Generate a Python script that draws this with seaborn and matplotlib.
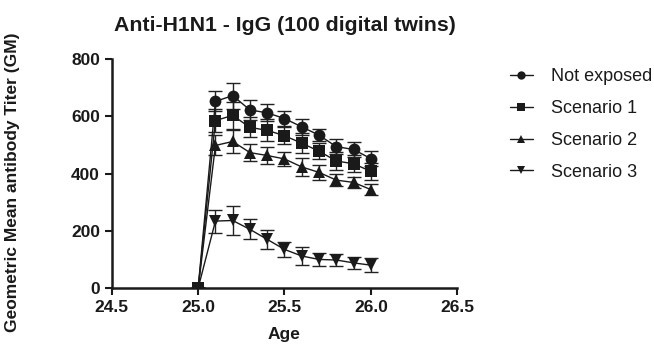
import numpy as np
import pandas as pd
import matplotlib
matplotlib.use("Agg")
import matplotlib.pyplot as plt
import seaborn as sns

age = [25.0, 25.1, 25.2, 25.3, 25.4, 25.5, 25.6, 25.7, 25.8, 25.9, 26.0]
groups = ["Not exposed", "Scenario 1", "Scenario 2", "Scenario 3"]

not_exposed = [0, 652, 672, 622, 612, 592, 563, 534, 494, 484, 452]
scenario_1 = [0, 585, 603, 561, 551, 532, 506, 478, 444, 434, 408]
scenario_2 = [0, 498, 512, 473, 463, 451, 423, 404, 377, 369, 344]
scenario_3 = [0, 234, 236, 205, 170, 135, 112, 100, 98, 88, 80]

err_not_exposed = [0, 35, 45, 35, 30, 25, 28, 22, 25, 25, 25]
err_scenario_1 = [0, 40, 48, 35, 38, 30, 35, 28, 30, 30, 30]
err_scenario_2 = [0, 35, 40, 30, 30, 25, 30, 25, 20, 20, 20]
err_scenario_3 = [0, 40, 50, 35, 32, 25, 32, 22, 20, 20, 25]

values = [not_exposed, scenario_1, scenario_2, scenario_3]
errors = [err_not_exposed, err_scenario_1, err_scenario_2, err_scenario_3]
markers = {"Not exposed": "o", "Scenario 1": "s", "Scenario 2": "^", "Scenario 3": "v"}

df = pd.DataFrame({
    "Age": age * len(groups),
    "GM": sum(values, []),
    "err": sum(errors, []),
    "group": sum([[g] * len(age) for g in groups], []),
})

sns.set_theme(style="ticks")
plt.rcParams["font.family"] = ["Liberation Sans", "DejaVu Sans"]

fig = plt.figure(figsize=(6.54, 3.45), dpi=100)
ax = fig.add_axes([0.171, 0.165, 0.528, 0.664])

for g in groups:
    sub = df[df["group"] == g]
    ax.errorbar(sub["Age"], sub["GM"], yerr=sub["err"], fmt="none",
                ecolor="#222222", elinewidth=1.0, capsize=5, capthick=1.0, zorder=2)

sns.lineplot(data=df, x="Age", y="GM", hue="group", style="group",
             markers=markers, dashes=False, palette=["#1a1a1a"] * 4,
             markersize=8.5, linewidth=1.0, markeredgewidth=0, ax=ax, zorder=3)

ax.set_xlim(24.5, 26.5)
ax.set_ylim(0, 800)
ax.set_xticks([24.5, 25.0, 25.5, 26.0, 26.5])
ax.set_xticklabels(["24.5", "25.0", "25.5", "26.0", "26.5"])
ax.set_yticks([0, 200, 400, 600, 800])

for side in ["left", "bottom"]:
    ax.spines[side].set_linewidth(1.8)
    ax.spines[side].set_color("#1a1a1a")
sns.despine(ax=ax)
ax.tick_params(axis="both", width=1.5, length=5, color="#1a1a1a",
               labelsize=12.5, labelcolor="#1a1a1a")
for lbl in ax.get_xticklabels() + ax.get_yticklabels():
    lbl.set_fontweight("bold")

ax.set_xlabel("Age", fontsize=12.5, fontweight="bold", color="#1a1a1a", labelpad=9)
ax.set_ylabel("Geometric Mean antibody Titer (GM)", fontsize=12.5, fontweight="bold",
              color="#1a1a1a")
ax.yaxis.set_label_coords(-0.265, 0.463)
ax.set_title("Anti-H1N1 - IgG (100 digital twins)", fontsize=15.3, fontweight="bold",
             color="#1a1a1a", pad=20)

handles, labels = ax.get_legend_handles_labels()
for h in handles:
    h.set_markersize(6)
ax.legend(handles, labels, loc="upper left", bbox_to_anchor=(1.105, 1.03),
          frameon=False, fontsize=13, handlelength=1.3, labelspacing=0.82,
          handletextpad=1.0, labelcolor="#1a1a1a")

fig.savefig("out.png", dpi=100)
